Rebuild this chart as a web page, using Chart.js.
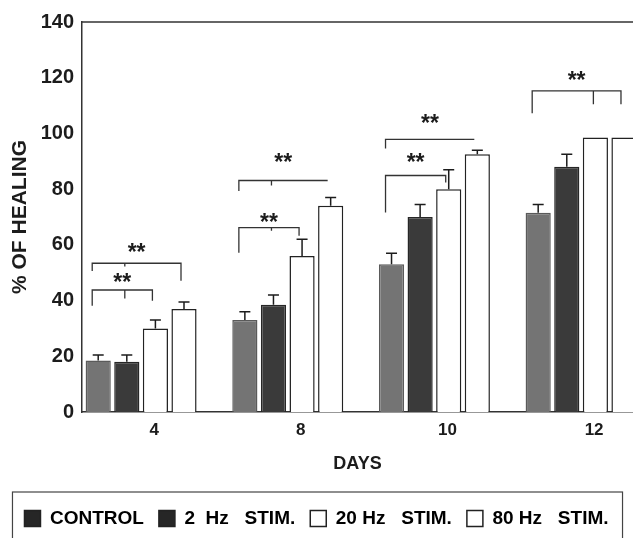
<!DOCTYPE html>
<html>
<head>
<meta charset="utf-8">
<script src="https://cdn.jsdelivr.net/npm/chart.js@4.4.1/dist/chart.umd.min.js"></script>
<style>
html,body{margin:0;padding:0;background:#fff;}
#wrap{width:633px;height:538px;position:relative;}
</style>
</head>
<body>
<div id="wrap"><canvas id="c"></canvas></div>
<script>
// ---- data ----
const days = ['4', '8', '10', '12'];
const seriesNames = ['CONTROL', '2  Hz   STIM.', '20 Hz   STIM.', '80 Hz   STIM.'];
const controlValues = [18.5, 33, 53, 71.5];
const hz2Values = [18, 38.5, 70, 88];
const hz20Values = [30, 56, 80, 98.5];
const hz80Values = [37, 74, 92.5, 98.5];
const controlErr = [2, 3, 4, 3];
const hz2Err = [2.5, 3.5, 4.5, 4.5];
const hz20Err = [3, 6, 7, 0];
const hz80Err = [2.5, 3, 1.5, 0];
const yTicks = [0, 20, 40, 60, 80, 100, 120, 140];

// significance brackets (** markers), in % units
const bracketDay = [0, 0, 1, 1, 2, 2, 3];
const bracketFrom = [0, 0, 0, 0, 0, 0, 0];
const bracketTo = [3, 2, 3, 2, 3, 2, 3];
const bracketTick = [1, 1, 1, 1, null, null, 2];
const bracketLevel = [53.4, 43.8, 83.1, 66.2, 97.9, 84.9, 115.3];
const bracketLeftEnd = [50.6, 38.1, 79.3, 57.2, 94.6, 71.6, 107.2];
const bracketRightEnd = [47.1, 39.9, 83.1, 63.3, 97.9, 82.4, 110.5];
const bracketTickEnd = [52.2, 40.7, 81.3, 65.1, null, null, 110.5];
const starLevel = [59.0, 48.2, 91.4, 69.8, 105.4, 91.4, 120.9];

// ---- build ----
const allValues = [controlValues, hz2Values, hz20Values, hz80Values];
const allErr = [controlErr, hz2Err, hz20Err, hz80Err];
const barFill = ['#747474', '#3a3a3a', '#ffffff', '#ffffff'];
const barBorder = ['#5a5a5a', '#262626', '#222222', '#222222'];
const legendFill = ['#262626', '#262626', '#ffffff', '#ffffff'];
const INK = '#1c1c1c';
const FONT = "'Liberation Sans', Arial, Helvetica, sans-serif";
const X_MIN = 0.597, X_MAX = 4.354;

const datasets = allValues.map((vals, d) => ({
  label: seriesNames[d],
  data: vals.map((v, i) => ({ x: i + 1, y: v })),
  backgroundColor: barFill[d],
  borderColor: barBorder[d],
  borderWidth: 1.5,
  borderSkipped: 'bottom',
  categoryPercentage: 0.78,
  barPercentage: 0.88
}));

const annotate = {
  id: 'annotate',
  afterDatasetsDraw(chart) {
    const ctx = chart.ctx;
    const ys = chart.scales.y;
    ctx.save();
    // top frame line
    ctx.strokeStyle = '#333';
    ctx.lineWidth = 1.5;
    ctx.beginPath();
    ctx.moveTo(chart.chartArea.left, chart.chartArea.top);
    ctx.lineTo(chart.chartArea.right, chart.chartArea.top);
    ctx.stroke();
    // error bars
    ctx.strokeStyle = INK;
    ctx.lineWidth = 1.5;
    allErr.forEach((errs, d) => {
      const meta = chart.getDatasetMeta(d);
      errs.forEach((e, i) => {
        if (!e) return;
        const bar = meta.data[i];
        const yTop = ys.getPixelForValue(allValues[d][i] + e);
        ctx.beginPath();
        ctx.moveTo(bar.x, bar.y);
        ctx.lineTo(bar.x, yTop);
        ctx.moveTo(bar.x - 5.5, yTop);
        ctx.lineTo(bar.x + 5.5, yTop);
        ctx.stroke();
      });
    });
    // brackets and stars
    ctx.lineWidth = 1.3;
    ctx.strokeStyle = '#333';
    ctx.fillStyle = INK;
    ctx.font = 'bold 23px ' + FONT;
    ctx.textAlign = 'center';
    ctx.textBaseline = 'alphabetic';
    const m = ctx.measureText('**');
    const midOff = (m.actualBoundingBoxAscent - m.actualBoundingBoxDescent) / 2;
    bracketDay.forEach((g, k) => {
      const xl = chart.getDatasetMeta(bracketFrom[k]).data[g].x - 6;
      const xr = chart.getDatasetMeta(bracketTo[k]).data[g].x - 3;
      const yl = ys.getPixelForValue(bracketLevel[k]);
      ctx.beginPath();
      ctx.moveTo(xl, ys.getPixelForValue(bracketLeftEnd[k]));
      ctx.lineTo(xl, yl);
      ctx.lineTo(xr, yl);
      ctx.lineTo(xr, ys.getPixelForValue(bracketRightEnd[k]));
      if (bracketTick[k] !== null) {
        const xt = chart.getDatasetMeta(bracketTick[k]).data[g].x - 2;
        ctx.moveTo(xt, yl);
        ctx.lineTo(xt, ys.getPixelForValue(bracketTickEnd[k]));
      }
      ctx.stroke();
      ctx.fillText('**', (xl + xr) / 2, ys.getPixelForValue(starLevel[k]) + midOff);
    });
    ctx.restore();
  },
  afterDraw(chart) {
    const lg = chart.legend;
    if (!lg || !lg.legendHitBoxes || !lg.legendHitBoxes.length) return;
    const hb = lg.legendHitBoxes;
    const first = hb[0], last = hb[hb.length - 1];
    const ctx = chart.ctx;
    ctx.save();
    ctx.strokeStyle = '#444';
    ctx.lineWidth = 1.2;
    const left = first.left - 12;
    const right = last.left + last.width + 14;
    ctx.strokeRect(left, first.top - 17, right - left, 80);
    ctx.restore();
  }
};

new Chart(document.getElementById('c'), {
  type: 'bar',
  data: { datasets },
  plugins: [annotate],
  options: {
    responsive: true,
    maintainAspectRatio: false,
    animation: false,
    layout: { padding: { top: 22, left: 0, right: 0, bottom: 0 } },
    plugins: {
      tooltip: { enabled: false },
      legend: {
        position: 'bottom',
        labels: {
          boxWidth: 16,
          boxHeight: 16,
          padding: 15,
          color: INK,
          font: { family: FONT, size: 19, weight: 'bold' },
          generateLabels: () => seriesNames.map((n, d) => ({
            text: n,
            fillStyle: legendFill[d],
            strokeStyle: '#222',
            lineWidth: 1.5,
            hidden: false,
            datasetIndex: d
          }))
        }
      }
    },
    scales: {
      x: {
        type: 'linear',
        bounds: 'data',
        offset: false,
        min: X_MIN,
        max: X_MAX,
        afterBuildTicks: (s) => {
          s.ticks = days.map((d, i) => ({ value: i + 1 }));
          s.min = X_MIN;
          s.max = X_MAX;
        },
        afterFit: (s) => { s.height = 82; },
        grid: { display: false, drawTicks: false },
        border: { display: true, color: '#333', width: 1.5 },
        ticks: {
          autoSkip: false,
          maxRotation: 0,
          labelOffset: 13,
          padding: 8,
          color: INK,
          font: { family: FONT, size: 17, weight: 'bold' },
          callback: (v, i) => days[i]
        },
        title: {
          display: true,
          text: 'DAYS',
          color: INK,
          font: { family: FONT, size: 18, weight: 'bold' },
          padding: { top: 0, bottom: 19 }
        }
      },
      y: {
        min: 0,
        max: 140,
        afterBuildTicks: (s) => { s.ticks = yTicks.map(v => ({ value: v })); },
        afterFit: (s) => { s.width = 82; },
        grid: { display: false, drawTicks: false },
        border: { display: true, color: '#333', width: 1.5 },
        ticks: {
          padding: 8,
          color: INK,
          font: { family: FONT, size: 20, weight: 'bold' }
        },
        title: {
          display: true,
          text: '% OF HEALING',
          color: INK,
          font: { family: FONT, size: 21, weight: 'bold' },
          padding: { top: 8, bottom: 0 }
        }
      }
    }
  }
});
</script>
</body>
</html>
